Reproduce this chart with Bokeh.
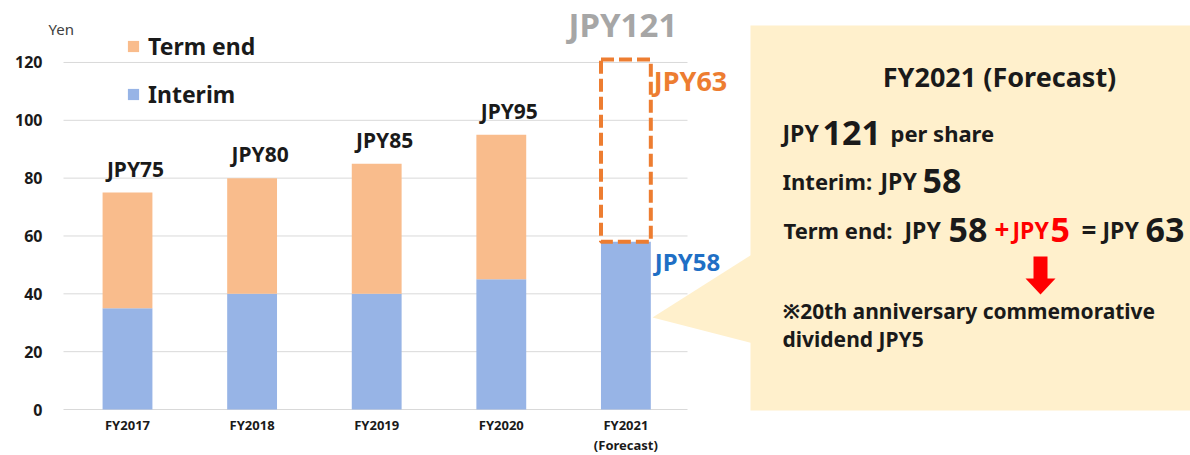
from bokeh.plotting import figure
from bokeh.models import (ColumnDataSource, FixedTicker, Legend, LegendItem,
                          Range1d)
from bokeh.core.properties import value
from bokeh.embed import file_html
from bokeh.resources import INLINE

# ---------------- data ----------------
categories = ["FY2017", "FY2018", "FY2019", "FY2020", "FY2021\n(Forecast)"]
interim = [35, 40, 40, 45, 58]
term_end = [40, 40, 45, 50, 63]
y_ticks = [0, 20, 40, 60, 80, 100, 120]
commemorative = 5
series_names = ["Term end", "Interim"]

idx = list(range(len(categories)))
totals = [a + b for a, b in zip(interim, term_end)]
n_act = len(categories) - 1
fc = idx[-1]

# ---------------- styling / geometry ----------------
FONT = "Noto Sans"
ORANGE = "#F9BC8C"
BLUE = "#97B4E6"
DASH = "#ED7D31"
LBLUE = "#1F6FC5"
GRAY = "#A6A6A6"
BOX = "#FFF0CC"
INK = "#1a1a1a"
RED = "#FF0000"

W, H = 1190, 455
PX_PER_CAT, CAT0_PX = 124.6, 127.0
PX_PER_YEN, ZERO_PX = 2.892, 409.0
TXT_SHIFT = 10  # renderer places alphabetic baseline a little low


def dx(px):
    return (px - CAT0_PX) / PX_PER_CAT


def dy(py):
    return (ZERO_PX - py) / PX_PER_YEN


def ty(py):
    return dy(py - TXT_SHIFT)


p = figure(width=W, height=H, output_backend="svg", toolbar_location=None,
           x_range=Range1d(dx(0), dx(W)),
           y_range=Range1d(dy(H), dy(0)),
           min_border_left=0, min_border_right=0,
           min_border_top=0, min_border_bottom=0)
p.outline_line_color = None
p.xgrid.visible = False
p.ygrid.visible = False
p.background_fill_color = "white"
p.border_fill_color = "white"

# gridlines limited to the chart area
p.segment(x0=dx(63), x1=dx(687), y0=y_ticks, y1=y_ticks,
          line_color="#D9D9D9", line_width=1)

# callout box with pointer
p.patch([dx(652), dx(753), dx(753)], [dy(317), dy(253), dy(343)],
        fill_color=BOX, line_color=None)
p.quad(left=[dx(750)], right=[dx(1200)], bottom=[dy(410)], top=[dy(25)],
       fill_color=BOX, line_color=None)

# bars
interim_r = p.vbar(x=idx, width=0.4, bottom=0, top=interim,
                   fill_color=BLUE, line_color=None)
term_r = p.vbar(x=idx[:n_act], width=0.4, bottom=interim[:n_act],
                top=totals[:n_act], fill_color=ORANGE, line_color=None)
p.vbar(x=[fc], width=0.4, bottom=[interim[fc]], top=[totals[fc]],
       fill_alpha=0, line_color=DASH, line_width=4, line_dash="13 5")

# total labels
p.text(x=idx[:n_act], y=totals[:n_act], text=[f"JPY{t}" for t in totals[:n_act]],
       text_align="center", text_baseline="alphabetic", x_offset=8, y_offset=-24,
       text_font=value(FONT), text_font_style="bold", text_font_size="21px",
       text_color=INK)
p.text(x=[fc], y=[totals[fc]], text=[f"JPY{totals[fc]}"],
       text_align="center", text_baseline="alphabetic", x_offset=-3, y_offset=-35,
       text_font=value(FONT), text_font_style="bold", text_font_size="33px",
       text_color=GRAY)
p.text(x=[fc + 0.2], y=[totals[fc]], text=[f"JPY{term_end[fc]}"],
       text_align="left", text_baseline="alphabetic", x_offset=3, y_offset=21,
       text_font=value(FONT), text_font_style="bold", text_font_size="27px",
       text_color=DASH)
p.text(x=[fc + 0.2], y=[interim[fc]], text=[f"JPY{interim[fc]}"],
       text_align="left", text_baseline="alphabetic", x_offset=4, y_offset=20,
       text_font=value(FONT), text_font_style="bold", text_font_size="24px",
       text_color=LBLUE)

# "Yen" unit label
p.text(x=[dx(48)], y=[ty(38)], text=["Yen"], text_align="left",
       text_baseline="alphabetic", text_font=value(FONT),
       text_font_size="15px", text_color="#404040")

# callout texts
base = term_end[fc] - commemorative
segs = [
    # text, x px, baseline px, size, color
    ("JPY", 782, 142, "23px", INK),
    (f"{totals[fc]}", 822, 142, "34px", INK),
    ("per share", 890, 142, "22px", INK),
    ("Interim: ", 782, 190, "22px", INK),
    ("JPY", 880, 190, "23px", INK),
    (f"{interim[fc]}", 922, 190, "34px", INK),
    ("Term end: ", 783, 239, "22px", INK),
    ("JPY", 904, 239, "23px", INK),
    (f"{base}", 948, 239, "34px", INK),
    ("+", 994, 239, "26px", RED),
    ("JPY", 1012, 239, "23px", RED),
    (f"{commemorative}", 1050, 239, "34px", RED),
    ("=", 1081, 239, "26px", INK),
    ("JPY", 1102, 239, "23px", INK),
    (f"{term_end[fc]}", 1145, 239, "34px", INK),
    ("※20th anniversary commemorative", 782, 320, "21px", INK),
    (f"dividend JPY{commemorative}", 782, 348, "21px", INK),
]
seg_src = ColumnDataSource(dict(
    x=[dx(s[1]) for s in segs], y=[ty(s[2]) for s in segs],
    text=[s[0] for s in segs], size=[s[3] for s in segs],
    color=[s[4] for s in segs]))
p.text(x="x", y="y", text="text", source=seg_src, text_font_size="size",
       text_color="color", text_align="left", text_baseline="alphabetic",
       text_font=value(FONT), text_font_style="bold")
p.text(x=[dx(999)], y=[ty(86)], text=["FY2021 (Forecast)"],
       text_align="center", text_baseline="alphabetic",
       text_font=value(FONT), text_font_style="bold", text_font_size="27px",
       text_color=INK)

# red down arrow
ax = [1033, 1047, 1047, 1055, 1040, 1025, 1033]
ay = [256, 256, 278, 278, 294, 278, 278]
p.patch([dx(v) for v in ax], [dy(v) for v in ay], fill_color=RED, line_color=None)

# legend
legend = Legend(items=[LegendItem(label=series_names[0], renderers=[term_r]),
                       LegendItem(label=series_names[1], renderers=[interim_r])],
                location=(126, 345), orientation="vertical",
                border_line_color=None, background_fill_alpha=0,
                padding=0, margin=0, spacing=16,
                glyph_width=14, glyph_height=14, label_height=26,
                label_standoff=8, label_text_font=FONT,
                label_text_font_style="bold", label_text_font_size="23px",
                label_text_color=INK)
p.add_layout(legend)

# axes (pinned in data space so the frame covers the whole canvas)
p.yaxis.fixed_location = dx(63)
p.yaxis.ticker = FixedTicker(ticks=y_ticks)
p.yaxis.axis_line_color = None
p.yaxis.major_tick_line_color = None
p.yaxis.minor_tick_line_color = None
p.yaxis.major_tick_out = 0
p.yaxis.major_tick_in = 0
p.yaxis.major_label_standoff = 21
p.yaxis.major_label_text_font = FONT
p.yaxis.major_label_text_font_style = "bold"
p.yaxis.major_label_text_font_size = "16px"
p.yaxis.major_label_text_color = INK

p.xaxis.fixed_location = 0
p.xaxis.ticker = FixedTicker(ticks=idx)
p.xaxis.major_label_overrides = {i: c for i, c in zip(idx, categories)}
p.xaxis.axis_line_color = None
p.xaxis.major_tick_line_color = None
p.xaxis.minor_tick_line_color = None
p.xaxis.major_tick_out = 0
p.xaxis.major_tick_in = 0
p.xaxis.major_label_standoff = 6
p.xaxis.major_label_text_font = FONT
p.xaxis.major_label_text_font_style = "bold"
p.xaxis.major_label_text_font_size = "13px"
p.xaxis.major_label_text_line_height = 1.15
p.xaxis.major_label_text_color = INK

open("out.html", "w").write(file_html(p, INLINE))
